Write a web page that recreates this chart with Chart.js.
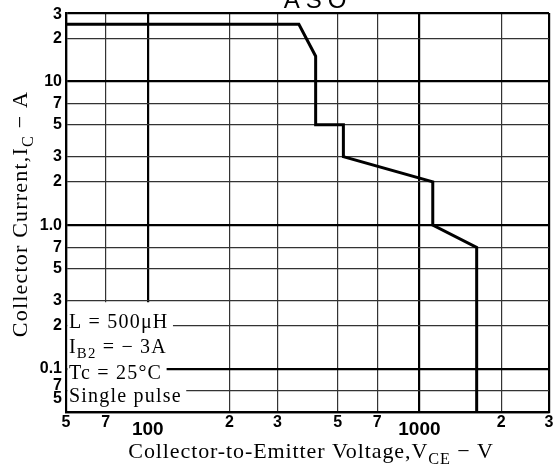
<!DOCTYPE html>
<html><head><meta charset="utf-8">
<script src="https://cdn.jsdelivr.net/npm/chart.js@4"></script>
<style>html,body{margin:0;padding:0;background:#fff}#wrap{width:559px;height:472px;position:relative}</style>
</head><body><div id="wrap"><canvas id="c"></canvas></div>
<script>
// ---- data ----
const voltage = [50, 360, 415, 415, 525, 525, 1120, 1120, 1625, 1625];
const current = [25, 25, 15, 5, 5, 3, 2, 1.0, 0.7, 0.05];
const xTickValues = [50, 70, 100, 200, 300, 500, 700, 1000, 2000, 3000];
const xTickLabels = ['5', '7', '100', '2', '3', '5', '7', '1000', '2', '3'];
const yTickValues = [30, 20, 10, 7, 5, 3, 2, 1, 0.7, 0.5, 0.3, 0.2, 0.1, 0.07, 0.05];
const yTickLabels = ['3', '2', '10', '7', '5', '3', '2', '1.0', '7', '5', '3', '2', '0.1', '7', '5'];
const xMajor = [50, 100, 1000, 3000];
const yMajor = [30, 10, 1, 0.1, 0.05];
const chartTitle = 'ASO';
const xTitle = [['Collector-to-Emitter Voltage,V'], ['CE', 'sub'], [' \u2212 V']];
const yTitle = [['Collector Current,I'], ['C', 'sub'], [' \u2212 A']];
const notes = [
  [['L = 500\u03bcH']],
  [['I'], ['B2', 'sub'], [' = \u2212 3A']],
  [['Tc = 25\u00b0C']],
  [['Single pulse']]
];

const SERIF = '"Liberation Serif", "DejaVu Serif", serif';
const SANS = '"Liberation Sans", Arial, sans-serif';

function richWidth(ctx, parts, size, spacing) {
  let w = 0;
  for (const p of parts) {
    const s = p[1] === 'sub' ? size * 0.74 : size;
    ctx.font = s + 'px ' + SERIF;
    ctx.letterSpacing = spacing + 'px';
    w += ctx.measureText(p[0]).width;
  }
  return w;
}
function drawRich(ctx, parts, x, y, size, spacing) {
  let cx = x;
  ctx.textAlign = 'left';
  ctx.textBaseline = 'alphabetic';
  for (const p of parts) {
    const sub = p[1] === 'sub';
    const s = sub ? size * 0.74 : size;
    ctx.font = s + 'px ' + SERIF;
    ctx.letterSpacing = spacing + 'px';
    ctx.fillText(p[0], cx, sub ? y + size * 0.25 : y);
    cx += ctx.measureText(p[0]).width;
  }
  ctx.letterSpacing = '0px';
}

const decor = {
  id: 'decor',
  afterDraw(chart) {
    const ctx = chart.ctx;
    const xs = chart.scales.x, ys = chart.scales.y;
    const area = chart.chartArea;
    ctx.save();
    ctx.fillStyle = '#000';
    // x tick labels
    xTickValues.forEach((v, i) => {
      const px = xs.getPixelForValue(v);
      const big = xTickLabels[i].length > 2;
      ctx.font = 'bold ' + (big ? 19 : 16) + 'px ' + SANS;
      ctx.textAlign = 'center';
      ctx.textBaseline = 'top';
      ctx.fillText(xTickLabels[i], px, area.bottom + (big ? 8 : 3));
    });
    // y tick labels
    yTickValues.forEach((v, i) => {
      let py = ys.getPixelForValue(v);
      if (v === 0.07) py -= 5;
      if (v === 0.05) py -= 13;
      if (v === 30) py += 2;
      ctx.font = 'bold 16px ' + SANS;
      ctx.textAlign = 'right';
      ctx.textBaseline = 'middle';
      ctx.fillText(yTickLabels[i], area.left - 4, py);
    });
    // title (cut at the top edge)
    ctx.font = '24px ' + SANS;
    ctx.letterSpacing = '6px';
    ctx.textAlign = 'center';
    ctx.textBaseline = 'alphabetic';
    ctx.fillText(chartTitle, 318, 8);
    ctx.letterSpacing = '0px';
    // axis titles
    const xw = richWidth(ctx, xTitle, 22, 0.9);
    drawRich(ctx, xTitle, 311 - xw / 2, 458, 22, 0.9);
    const yw = richWidth(ctx, yTitle, 22, 1.2);
    ctx.save();
    ctx.translate(27, 214);
    ctx.rotate(-Math.PI / 2);
    drawRich(ctx, yTitle, -yw / 2, 0, 22, 1.2);
    ctx.restore();
    // notes block with white background
    const baselines = [328, 353, 379, 402];
    let top = ys.getPixelForValue(0.3) + 2;
    notes.forEach((parts, i) => {
      const w = richWidth(ctx, parts, 20, 1.2);
      const bottom = i === notes.length - 1 ? area.bottom - 1 : baselines[i] + 8;
      ctx.fillStyle = '#fff';
      ctx.fillRect(area.left + 1.5, top, w + 6, bottom - top);
      ctx.fillStyle = '#000';
      drawRich(ctx, parts, area.left + 3, baselines[i], 20, 1.2);
      top = bottom;
    });
    ctx.restore();
  }
};

new Chart(document.getElementById('c'), {
  type: 'scatter',
  data: {
    datasets: [{
      data: voltage.map((v, i) => ({ x: v, y: current[i] })),
      showLine: true,
      borderColor: '#000',
      borderWidth: 3,
      pointRadius: 0,
      tension: 0,
      fill: false
    }]
  },
  options: {
    responsive: true,
    maintainAspectRatio: false,
    animation: false,
    devicePixelRatio: 1,
    layout: { padding: { left: 66, right: 10, top: 13, bottom: 60 } },
    plugins: { legend: { display: false }, tooltip: { enabled: false } },
    scales: {
      x: {
        type: 'logarithmic', min: 50, max: 3000,
        afterBuildTicks: s => { s.ticks = xTickValues.map(v => ({ value: v })); },
        afterFit: s => { s.height = 0; },
        ticks: { display: false },
        grid: {
          drawTicks: false,
          color: c => xMajor.includes(c.tick.value) ? '#000' : '#333',
          lineWidth: c => xMajor.includes(c.tick.value) ? 2.2 : 1.2
        },
        border: { display: true, color: '#000', width: 2.2 }
      },
      y: {
        type: 'logarithmic', min: 0.05, max: 30,
        afterBuildTicks: s => { s.ticks = yTickValues.map(v => ({ value: v })); },
        afterFit: s => { s.width = 0; },
        ticks: { display: false },
        grid: {
          drawTicks: false,
          color: c => yMajor.includes(c.tick.value) ? '#000' : '#333',
          lineWidth: c => yMajor.includes(c.tick.value) ? 2.2 : 1.2
        },
        border: { display: true, color: '#000', width: 2.2 }
      }
    }
  },
  plugins: [decor]
});
</script>
</body></html>
